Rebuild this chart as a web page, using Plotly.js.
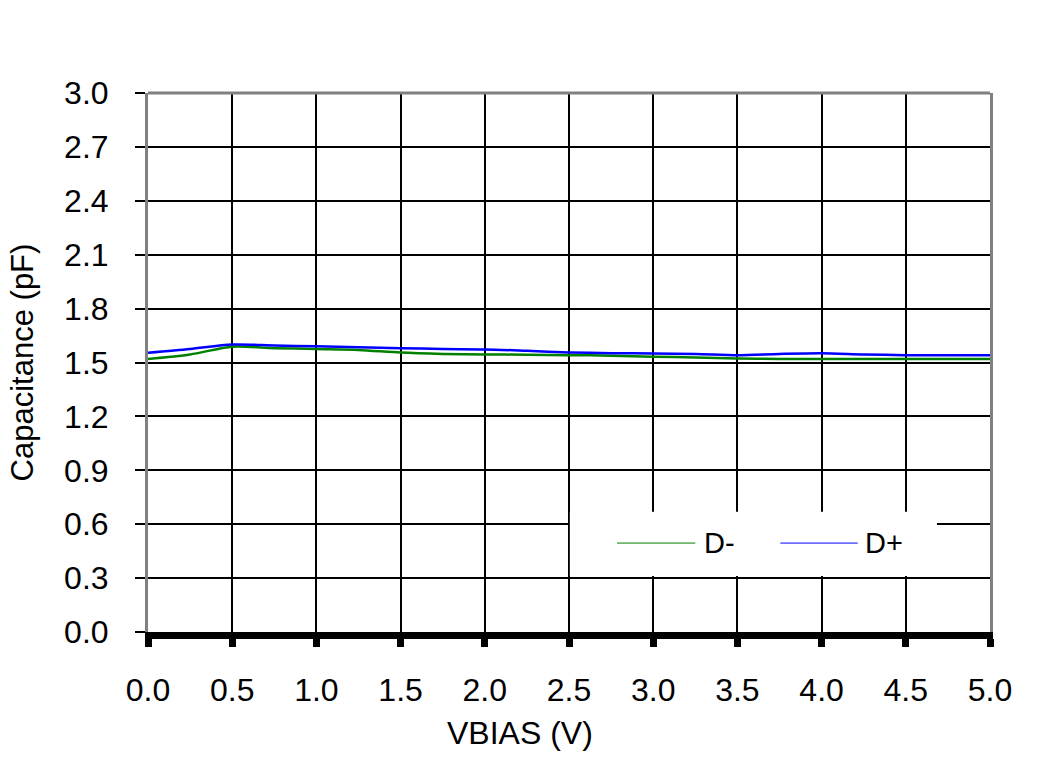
<!DOCTYPE html>
<html>
<head>
<meta charset="utf-8">
<script src="https://cdn.plot.ly/plotly-3.0.1.min.js"></script>
<style>html,body{margin:0;padding:0;background:#fff;}#chart{width:1050px;height:784px;}</style>
</head>
<body>
<div id="chart"></div>
<script>
const vbias = [0, 0.25, 0.5, 0.75, 1.0, 1.25, 1.5, 1.75, 2.0, 2.25, 2.5, 2.75, 3.0, 3.25, 3.5, 3.75, 4.0, 4.25, 4.5, 4.75, 5.0];
const dMinus = [1.520, 1.545, 1.588, 1.580, 1.575, 1.570, 1.555, 1.548, 1.545, 1.543, 1.541, 1.538, 1.532, 1.528, 1.522, 1.520, 1.519, 1.519, 1.519, 1.519, 1.519];
const dPlus  = [1.554, 1.575, 1.600, 1.595, 1.590, 1.585, 1.580, 1.575, 1.573, 1.565, 1.556, 1.552, 1.550, 1.548, 1.541, 1.548, 1.552, 1.545, 1.541, 1.541, 1.541];
const seriesNames = ["D-", "D+"];
const xTitle = "VBIAS (V)";
const yTitle = "Capacitance (pF)";

const font = "Liberation Sans, Arial, sans-serif";

const traces = [
  {x: vbias, y: dMinus, name: seriesNames[0], mode: "lines", line: {color: "#008000", width: 2.5, shape: "spline", smoothing: 0.8}},
  {x: vbias, y: dPlus,  name: seriesNames[1], mode: "lines", line: {color: "#0000FF", width: 2.5, shape: "spline", smoothing: 0.8}}
];

const layout = {
  width: 1050, height: 784,
  margin: {l: 148, r: 60, t: 93, b: 152},
  paper_bgcolor: "#fff", plot_bgcolor: "#fff",
  showlegend: false,
  font: {family: font, color: "#000", size: 32},
  xaxis: {
    range: [0, 5], dtick: 0.5, tick0: 0, tickformat: ".1f",
    showgrid: true, gridcolor: "#000", gridwidth: 2,
    zeroline: false,
    showline: true, linecolor: "#000", linewidth: 7,
    ticks: "outside", ticklen: 8, tickwidth: 7, tickcolor: "#000",
    ticklabelstandoff: 16,
    tickfont: {family: font, size: 32, color: "#000"}
  },
  yaxis: {
    range: [0, 3], dtick: 0.3, tick0: 0, tickformat: ".1f",
    showgrid: true, gridcolor: "#000", gridwidth: 2,
    zeroline: false,
    showline: true, linecolor: "#808080", linewidth: 3, mirror: true,
    ticks: "outside", ticklen: 10, tickwidth: 2, tickcolor: "#000",
    ticklabelstandoff: 20,
    tickfont: {family: font, size: 32, color: "#000"},
    title: {text: yTitle, font: {family: font, size: 31, color: "#000"}, standoff: 22}
  },
  shapes: [
    {type: "line", xref: "paper", yref: "paper", x0: 0, x1: 1, y0: 1, y1: 1, line: {color: "#808080", width: 3}},
    {type: "rect", xref: "paper", yref: "paper", x0: 0.501, x1: 0.937, y0: 0.104, y1: 0.223, fillcolor: "#fff", line: {width: 0}, layer: "above"},
    {type: "line", xref: "paper", yref: "paper", x0: 0.557, x1: 0.650, y0: 0.165, y1: 0.165, line: {color: "#008000", width: 1}, layer: "above"},
    {type: "line", xref: "paper", yref: "paper", x0: 0.751, x1: 0.843, y0: 0.165, y1: 0.165, line: {color: "#0000FF", width: 1}, layer: "above"}
  ],
  annotations: [
    {text: seriesNames[0], xref: "paper", yref: "paper", x: 0.658, y: 0.165, xanchor: "left", yanchor: "middle", showarrow: false, font: {family: font, size: 29, color: "#000"}},
    {text: seriesNames[1], xref: "paper", yref: "paper", x: 0.849, y: 0.165, xanchor: "left", yanchor: "middle", showarrow: false, font: {family: font, size: 29, color: "#000"}},
    {text: xTitle, xref: "paper", yref: "paper", x: 0.442, y: -0.187, xanchor: "center", yanchor: "middle", showarrow: false, font: {family: font, size: 32, color: "#000"}}
  ]
};

Plotly.newPlot("chart", traces, layout, {staticPlot: true, displayModeBar: false});
</script>
</body>
</html>
